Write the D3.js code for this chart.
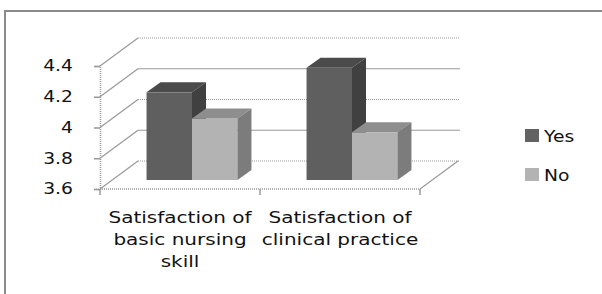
<!DOCTYPE html>
<html lang="en">
  <head>
    <meta charset="utf-8" />
    <title>Satisfaction</title>
    <script src="https://d3js.org/d3.v7.min.js" charset="utf-8"></script>
    <style>
      body { margin: 0; background: #fff; }
      svg { display: block; }
      text { font-family: "DejaVu Sans", sans-serif; fill: #111; }
    </style>
  </head>
  <body>
    <div id="svg-container"></div>
    <script>
      // data
      const categories = ["basic", "clinical"];
      const categoryLines = [
        ["Satisfaction of", "basic nursing", "skill"],
        ["Satisfaction of", "clinical practice"]
      ];
      const series = ["Yes", "No"];
      const yesValues = [4.17, 4.33];
      const noValues = [4.0, 3.91];
      const yTicks = [3.6, 3.8, 4, 4.2, 4.4];
      const seriesColours = {
        Yes: { front: "#5f5f5f", top: "#4b4b4b", side: "#404040" },
        No: { front: "#b3b3b3", top: "#8e8e8e", side: "#7c7c7c" }
      };

      const width = 602, height = 294;
      const stretch = 1.25; // text in the original is wider than normal

      // 3d depth of the plot box and of the bars
      const DX = 38, DY = -28;   // full depth
      const FX = 12, FY = -9;    // front face of bars
      const BX = 14, BY = -10;   // bar depth

      const svg = d3.select("#svg-container")
        .append("svg")
        .attr("width", width)
        .attr("height", height);

      // outer frame, cut off at right and bottom
      svg.append("rect")
        .attr("x", 5).attr("y", 11)
        .attr("width", 700).attr("height", 400)
        .attr("fill", "none")
        .attr("stroke", "#8a8a8a")
        .attr("stroke-width", 2);

      const y = d3.scaleLinear().domain([3.6, 4.4]).range([189, 66]);
      const x0 = d3.scaleBand().domain(categories).range([100, 420]);
      const x1 = d3.scaleBand().domain(series).range([0, x0.bandwidth()])
        .paddingInner(0).paddingOuter(0.76);

      const rows = categories.map((c, i) => ({ cat: c, Yes: yesValues[i], No: noValues[i] }));

      const [xl, xr] = x0.range();

      // back wall gridlines
      svg.append("g").selectAll("line")
        .data(yTicks)
        .join("line")
        .attr("x1", xl + DX).attr("x2", xr + DX + 2)
        .attr("y1", (d) => y(d) + DY).attr("y2", (d) => y(d) + DY)
        .attr("stroke", "#999")
        .attr("stroke-width", 1.2)
        .attr("stroke-dasharray", (d, i) => (i % 2 === 0 ? "1,1" : null));

      // left wall diagonals
      svg.append("g").selectAll("line")
        .data(yTicks)
        .join("line")
        .attr("x1", xl).attr("x2", xl + DX)
        .attr("y1", (d) => y(d)).attr("y2", (d) => y(d) + DY)
        .attr("stroke", "#999")
        .attr("stroke-width", 1.2);

      // floor right edge
      svg.append("line")
        .attr("x1", xr).attr("y1", y(3.6))
        .attr("x2", xr + DX).attr("y2", y(3.6) + DY)
        .attr("stroke", "#999")
        .attr("stroke-width", 1.2);

      // bars, drawn left to right
      const bars = [];
      rows.forEach((r) => series.forEach((s) => bars.push({ cat: r.cat, key: s, value: r[s] })));

      const bw = x1.bandwidth();
      const base = y(3.6) + FY;
      const barG = svg.append("g")
        .selectAll("g")
        .data(bars)
        .join("g");

      barG.append("rect")
        .attr("x", (d) => x0(d.cat) + x1(d.key) + FX)
        .attr("y", (d) => y(d.value) + FY)
        .attr("width", bw)
        .attr("height", (d) => base - (y(d.value) + FY))
        .attr("fill", (d) => seriesColours[d.key].front);

      barG.append("polygon")
        .attr("points", (d) => {
          const xa = x0(d.cat) + x1(d.key) + FX, ya = y(d.value) + FY;
          return [[xa, ya], [xa + BX, ya + BY], [xa + bw + BX, ya + BY], [xa + bw, ya]].join(" ");
        })
        .attr("fill", (d) => seriesColours[d.key].top);

      barG.append("polygon")
        .attr("points", (d) => {
          const xa = x0(d.cat) + x1(d.key) + FX + bw, ya = y(d.value) + FY;
          return [[xa, ya], [xa + BX, ya + BY], [xa + BX, base + BY], [xa, base]].join(" ");
        })
        .attr("fill", (d) => seriesColours[d.key].side);

      // front floor line with ticks
      svg.append("line")
        .attr("x1", xl).attr("x2", xr)
        .attr("y1", y(3.6)).attr("y2", y(3.6))
        .attr("stroke", "#999")
        .attr("stroke-width", 1.5)
        .attr("stroke-dasharray", "1,1");
      svg.append("g").selectAll("line")
        .data([xl, x0(categories[1]), xr])
        .join("line")
        .attr("x1", (d) => d).attr("x2", (d) => d)
        .attr("y1", y(3.6)).attr("y2", y(3.6) + 6)
        .attr("stroke", "#999")
        .attr("stroke-width", 1.5);

      // y axis
      const yaxis = d3.axisLeft(y)
        .tickValues(yTicks)
        .tickSize(6)
        .tickFormat(d3.format("~g"));
      const gY = svg.append("g")
        .attr("transform", `translate(${xl},0)`)
        .call(yaxis);
      gY.select(".domain")
        .attr("stroke", "#999")
        .attr("stroke-width", 1.5)
        .attr("stroke-dasharray", "1,1");
      gY.selectAll(".tick line").attr("stroke", "#999").attr("stroke-width", 1.5);
      gY.selectAll(".tick text")
        .attr("font-family", "DejaVu Sans")
        .attr("font-size", 15)
        .attr("fill", "#111")
        .attr("x", -27 / stretch)
        .attr("transform", `scale(${stretch},1)`);

      // category labels
      const labG = svg.append("g").selectAll("g")
        .data(categories)
        .join("g")
        .attr("transform", (d) => `translate(${x0(d) + x0.bandwidth() / 2},0) scale(${stretch},1)`);
      labG.selectAll("text")
        .data((d, i) => categoryLines[i])
        .join("text")
        .attr("x", 0)
        .attr("y", (d, i) => 223 + i * 22)
        .attr("text-anchor", "middle")
        .attr("font-size", 16)
        .text((d) => d);

      // legend
      const leg = svg.append("g").selectAll("g")
        .data(series)
        .join("g")
        .attr("transform", (d, i) => `translate(525,${129 + i * 39})`);
      leg.append("rect")
        .attr("width", 14).attr("height", 13)
        .attr("fill", (d) => (d === "Yes" ? "#626262" : "#b3b3b3"));
      leg.append("text")
        .attr("transform", `translate(19,13) scale(${stretch},1)`)
        .attr("font-size", 15)
        .text((d) => d);
    </script>
  </body>
</html>
